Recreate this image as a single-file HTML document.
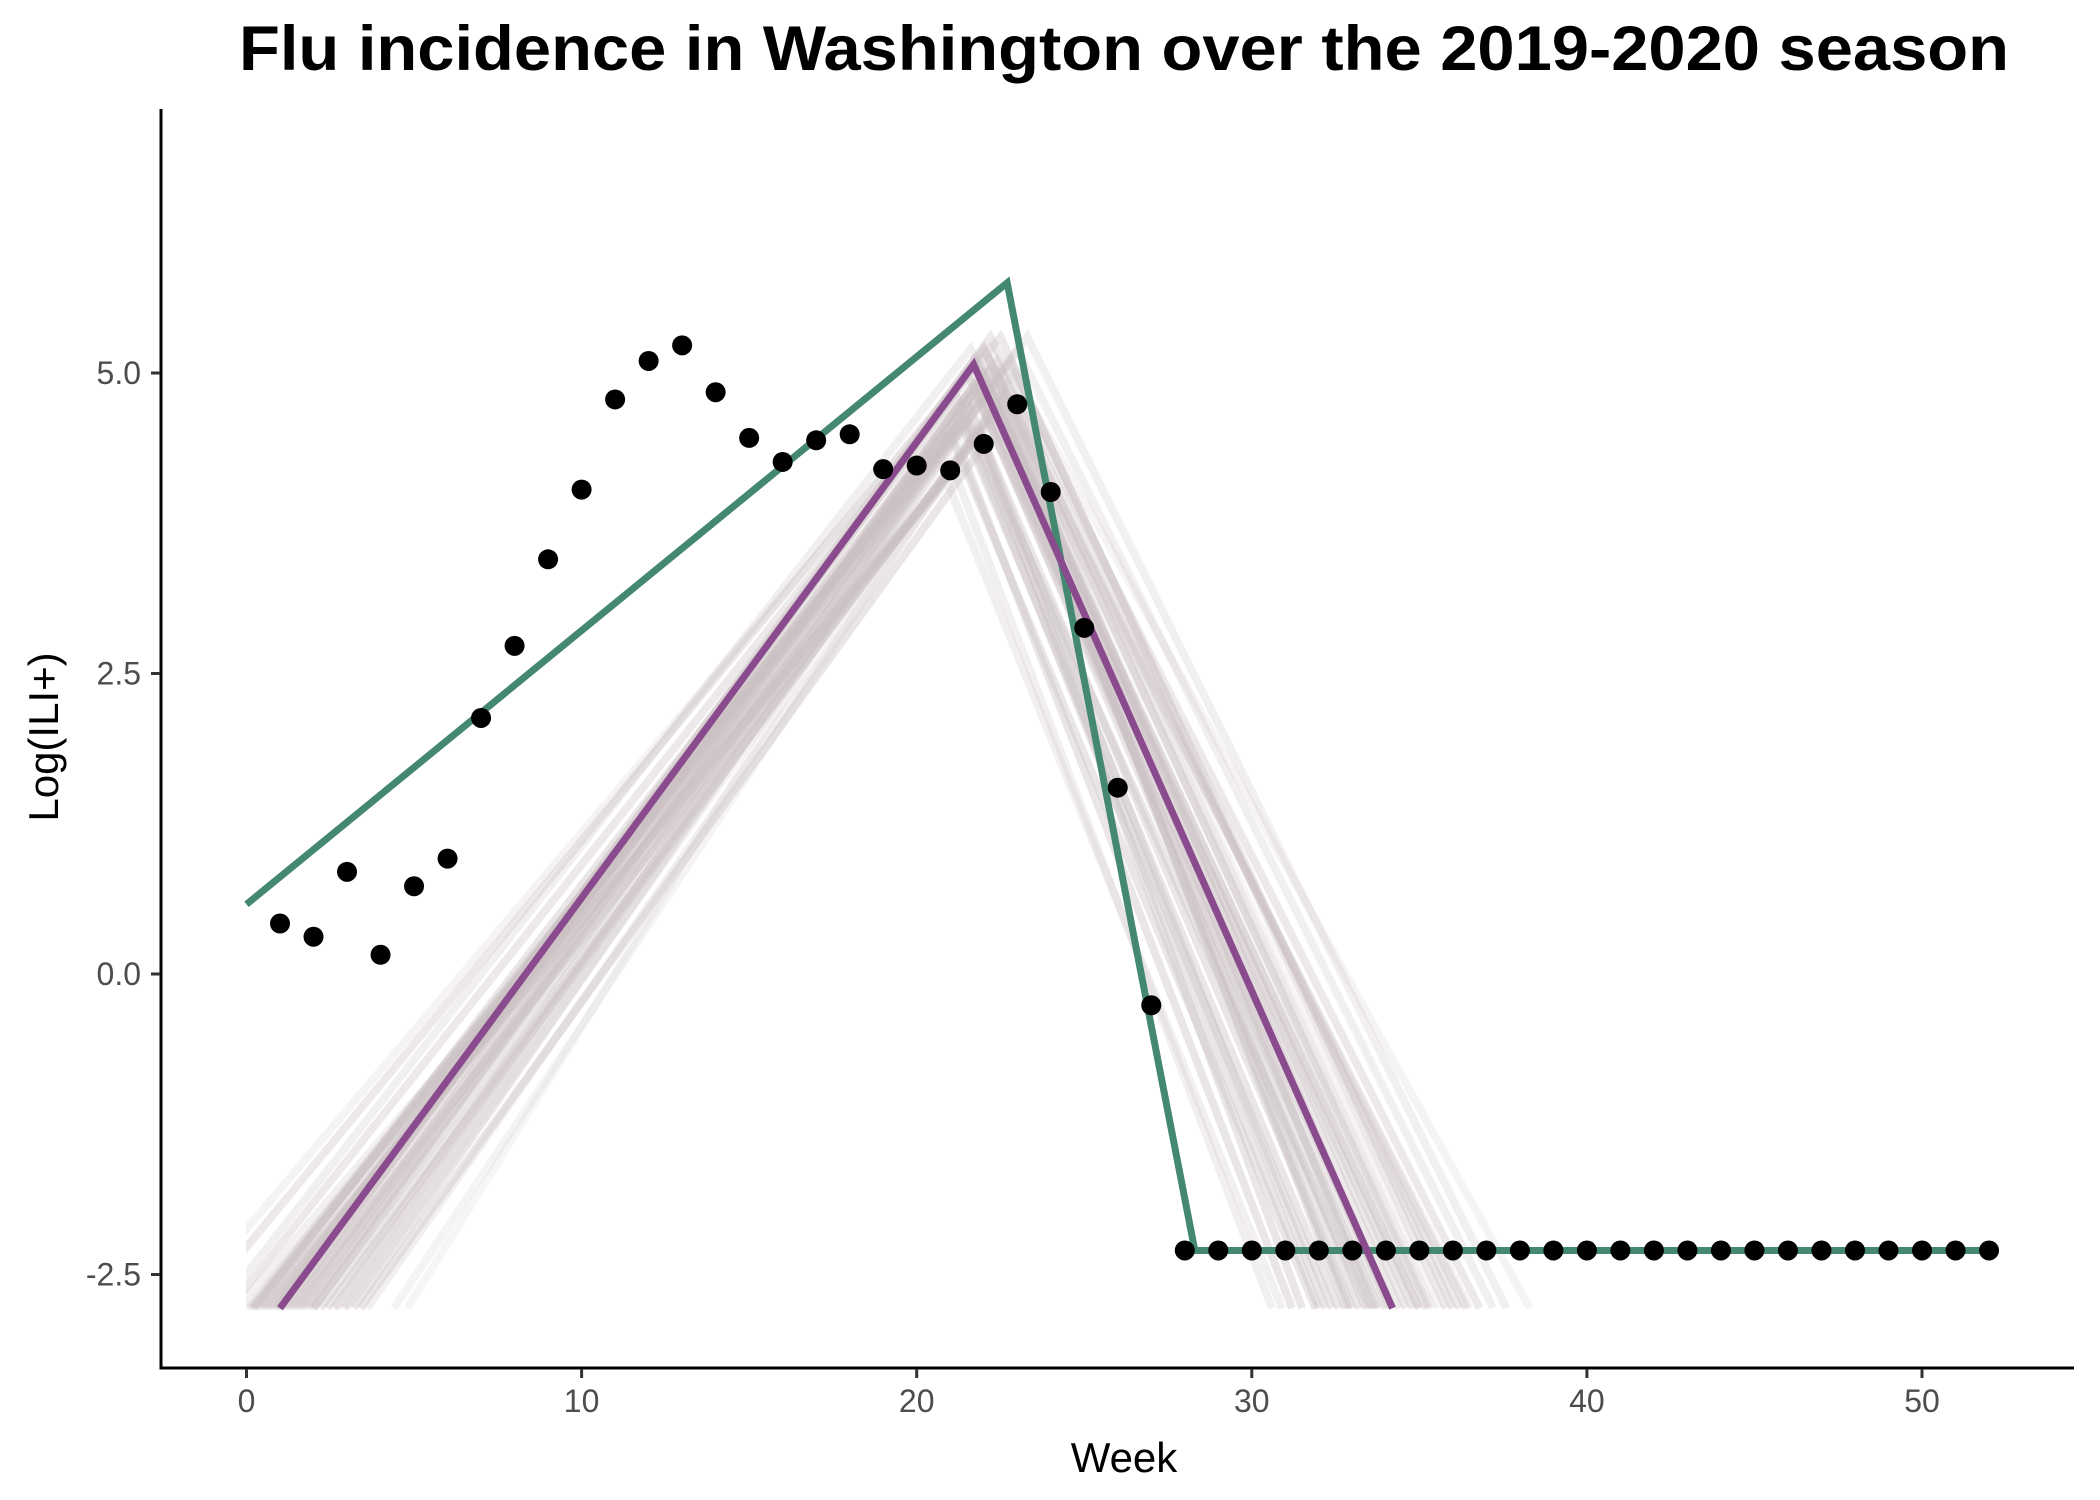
<!DOCTYPE html>
<html><head><meta charset="utf-8"><style>
html,body{margin:0;padding:0;background:#fff;}
svg{display:block;font-family:"Liberation Sans",Arial,sans-serif;}
</style></head><body>
<svg id="chart" width="2100" height="1500" viewBox="0 0 2100 1500">
<text x="1124" y="70" text-anchor="middle" font-size="63" font-weight="bold" fill="#000" textLength="1770" lengthAdjust="spacingAndGlyphs">Flu incidence in Washington over the 2019-2020 season</text>
<defs><clipPath id="clip"><rect x="246" y="100" width="1830" height="1213"/></clipPath></defs>
<g id="ens" clip-path="url(#clip)"></g>
<g id="fits"></g>
<g id="pts"></g>
<g id="axes"></g>
<text x="1124" y="1472" text-anchor="middle" font-size="42" fill="#000">Week</text>
<text transform="translate(58,737) rotate(-90)" text-anchor="middle" font-size="42" fill="#000">Log(ILI+)</text>
</svg>
<script>
const weeks=[1,2,3,4,5,6,7,8,9,10,11,12,13,14,15,16,17,18,19,20,21,22,23,24,25,26,27,28,29,30,31,32,33,34,35,36,37,38,39,40,41,42,43,44,45,46,47,48,49,50,51,52];
const obs=[0.42,0.31,0.85,0.16,0.73,0.96,2.13,2.73,3.45,4.03,4.78,5.1,5.23,4.84,4.46,4.26,4.44,4.49,4.2,4.23,4.19,4.41,4.74,4.01,2.88,1.55,-0.26,-2.3,-2.3,-2.3,-2.3,-2.3,-2.3,-2.3,-2.3,-2.3,-2.3,-2.3,-2.3,-2.3,-2.3,-2.3,-2.3,-2.3,-2.3,-2.3,-2.3,-2.3,-2.3,-2.3,-2.3,-2.3];
const greenX=[0,22.7,28.3,52];
const greenY=[0.58,5.75,-2.3,-2.3];
const purpleX=[1,21.7,34.2];
const purpleY=[-2.78,5.07,-2.78];
const ensPeakWeek=[21.2,21.5,21.8,22.0,22.3,22.5,21.0,21.6,22.1,22.8,21.4,21.9,22.2,22.6,21.3,21.7,22.0,22.4,23.0,21.1,21.8,22.2,22.7,21.5,22.0,22.3,21.6,22.9,21.9,22.4,20.9,21.7,22.1,22.5,23.3,21.4,22.0,22.6,21.8,22.2];
const ensPeakVal=[4.8,5.0,5.1,5.2,4.9,5.3,4.5,4.7,5.0,5.1,4.3,4.9,5.2,4.8,4.6,5.1,4.4,5.0,5.2,4.2,4.8,5.3,4.9,4.6,5.0,4.7,5.2,5.0,4.5,5.1,4.1,4.9,5.0,4.7,5.3,4.6,5.2,4.8,4.9,5.1];
const ensStart=[0.3,-1.5,0.8,1.2,2.0,-0.5,0.2,1.6,2.6,3.2,0.5,1.0,-2.0,2.2,0.1,1.4,3.4,0.7,1.8,-0.3,2.9,0.9,4.4,0.4,1.1,2.4,-0.8,3.0,0.6,1.5,0.0,2.0,4.8,1.3,2.7,0.2,1.7,3.6,0.9,1.9];
const ensEnd=[33.5,34.2,35.0,36.4,32.8,35.8,31.9,33.0,34.6,36.0,31.2,34.0,35.4,33.6,32.4,34.8,31.5,35.2,37.2,30.6,33.8,36.8,35.6,32.6,34.4,33.2,35.0,38.3,32.2,36.2,30.9,33.4,34.9,32.9,37.6,32.0,35.3,36.5,33.7,34.1];
const ensOpacity=[0.4,0.35,0.4,0.35,0.4,0.35,0.4,0.4,0.35,0.4,0.4,0.35,0.2,0.4,0.4,0.35,0.4,0.35,0.25,0.25,0.4,0.35,0.2,0.4,0.35,0.4,0.25,0.2,0.4,0.35,0.25,0.4,0.15,0.4,0.25,0.4,0.35,0.25,0.4,0.35];
const xTicks=[0,10,20,30,40,50];
const yTicks=[-2.5,0,2.5,5];
const yTickLabels=["-2.5","0.0","2.5","5.0"];
const NS="http://www.w3.org/2000/svg";
const X=w=>246.5+33.51*w;
const Y=v=>974-120.2*v;
const BOT=-2.78;
function mk(tag,attrs,parent){const e=document.createElementNS(NS,tag);for(const k in attrs)e.setAttribute(k,attrs[k]);parent.appendChild(e);return e;}
const ens=document.getElementById('ens');
for(let i=0;i<ensPeakWeek.length;i++){
  const d=`M${X(ensStart[i])},${Y(BOT)} L${X(ensPeakWeek[i])},${Y(ensPeakVal[i])} L${X(ensEnd[i])},${Y(BOT)}`;
  const p=mk('path',{d:d,fill:'none',stroke:'#cbc1c2','stroke-width':8,'stroke-opacity':ensOpacity[i]},ens);
  
  
}
const fits=document.getElementById('fits');
const gp=mk('polyline',{points:greenX.map((x,i)=>X(x)+','+Y(greenY[i])).join(' '),fill:'none',stroke:'#448870','stroke-width':7,'stroke-linejoin':'miter'},fits);


const pp=mk('polyline',{points:purpleX.map((x,i)=>X(x)+','+Y(purpleY[i])).join(' '),fill:'none',stroke:'#8a4a8e','stroke-width':7,'stroke-linejoin':'miter'},fits);


const pts=document.getElementById('pts');
weeks.forEach((w,i)=>{
  const c=mk('circle',{cx:X(w),cy:Y(obs[i]),r:10,fill:'#000'},pts);
  
  
});
const ax=document.getElementById('axes');
const xl=mk('line',{x1:161,y1:1368,x2:2074,y2:1368,stroke:'#000','stroke-width':3},ax);


const yl=mk('line',{x1:161,y1:109,x2:161,y2:1369.5,stroke:'#000','stroke-width':3},ax);


xTicks.forEach(t=>{
  const l=mk('line',{x1:X(t),y1:1369,x2:X(t),y2:1378,stroke:'#333','stroke-width':3},ax);
  
  
  const tx=mk('text',{x:X(t),y:1412,'text-anchor':'middle','font-size':32,fill:'#4d4d4d'},ax);
  tx.textContent=String(t);
  
  
});
yTicks.forEach((t,i)=>{
  const l=mk('line',{x1:151,y1:Y(t),x2:160,y2:Y(t),stroke:'#333','stroke-width':3},ax);
  
  
  const tx=mk('text',{x:141,y:Y(t)+11,'text-anchor':'end','font-size':32,fill:'#4d4d4d'},ax);
  tx.textContent=yTickLabels[i];
  
  
});
</script>
</body></html>
